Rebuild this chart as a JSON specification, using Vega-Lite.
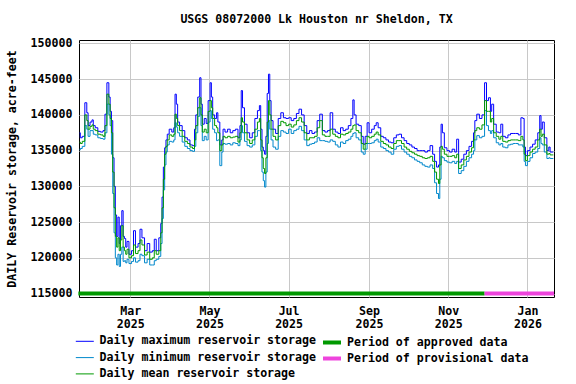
{
  "$schema": "https://vega.github.io/schema/vega-lite/v6.json",
  "autosize": {"type": "none"},
  "padding": {"left": 79, "top": 40, "right": 22, "bottom": 87},
  "width": 475,
  "height": 257,
  "background": "white",
  "config": {
    "font": "DejaVu Sans Mono",
    "view": {"stroke": "black", "strokeWidth": 1},
    "axis": {
      "labelFont": "DejaVu Sans Mono", "labelFontWeight": "bold", "labelFontSize": 11.6, "labelColor": "black",
      "titleFont": "DejaVu Sans Mono", "titleFontWeight": "bold", "titleFontSize": 11.6, "titleColor": "black",
      "grid": true, "gridColor": "#c8c8c8", "gridWidth": 1, "domain": false, "ticks": false, "labelOverlap": false
    },
    "legend": {
      "labelFont": "DejaVu Sans Mono", "labelFontWeight": "bold", "labelFontSize": 11.6, "labelColor": "black",
      "labelLimit": 400, "padding": 0
    }
  },
  "title": {
    "text": "USGS 08072000 Lk Houston nr Sheldon, TX",
    "font": "DejaVu Sans Mono", "fontWeight": "bold", "fontSize": 11.6, "color": "black",
    "anchor": "middle", "frame": "group", "baseline": "bottom", "offset": 1
  },
  "datasets": {
    "storage": [
      {"date":"2025-01-21","max":137500,"mean":136200,"min":135100},
      {"date":"2025-01-22","max":136800,"mean":136000,"min":135300},
      {"date":"2025-01-24","max":137000,"mean":136300,"min":135600},
      {"date":"2025-01-26","max":141700,"mean":140000,"min":138500},
      {"date":"2025-01-27","max":140300,"mean":139200,"min":138000},
      {"date":"2025-01-28","max":138500,"mean":138000,"min":137000},
      {"date":"2025-01-30","max":139000,"mean":138400,"min":137800},
      {"date":"2025-01-31","max":139300,"mean":138600,"min":137800},
      {"date":"2025-02-01","max":138500,"mean":138000,"min":137300},
      {"date":"2025-02-03","max":138200,"mean":137800,"min":137200},
      {"date":"2025-02-05","max":137700,"mean":137300,"min":136800},
      {"date":"2025-02-07","max":137600,"mean":137200,"min":136700},
      {"date":"2025-02-09","max":137800,"mean":137000,"min":136600},
      {"date":"2025-02-10","max":140100,"mean":138500,"min":137500},
      {"date":"2025-02-12","max":144500,"mean":142900,"min":141500},
      {"date":"2025-02-13","max":142500,"mean":141500,"min":140000},
      {"date":"2025-02-14","max":140500,"mean":139500,"min":138500},
      {"date":"2025-02-15","max":139200,"mean":137500,"min":134500},
      {"date":"2025-02-16","max":134000,"mean":132000,"min":129000},
      {"date":"2025-02-17","max":130000,"mean":127000,"min":123500},
      {"date":"2025-02-18","max":126000,"mean":123000,"min":120000},
      {"date":"2025-02-19","max":123000,"mean":121500,"min":119000},
      {"date":"2025-02-20","max":125700,"mean":122800,"min":120500},
      {"date":"2025-02-21","max":122000,"mean":121000,"min":118800},
      {"date":"2025-02-22","max":124500,"mean":122500,"min":120500},
      {"date":"2025-02-23","max":126600,"mean":124500,"min":121500},
      {"date":"2025-02-24","max":123000,"mean":121500,"min":119500},
      {"date":"2025-02-25","max":122700,"mean":121000,"min":119600},
      {"date":"2025-02-26","max":121500,"mean":120500,"min":119300},
      {"date":"2025-02-27","max":122300,"mean":121200,"min":119800},
      {"date":"2025-03-01","max":120500,"mean":120000,"min":119200},
      {"date":"2025-03-03","max":121000,"mean":120300,"min":119500},
      {"date":"2025-03-04","max":123800,"mean":121800,"min":120000},
      {"date":"2025-03-06","max":121500,"mean":120600,"min":119400},
      {"date":"2025-03-08","max":122000,"mean":121000,"min":119600},
      {"date":"2025-03-09","max":124000,"mean":122500,"min":120500},
      {"date":"2025-03-11","max":122800,"mean":121800,"min":120300},
      {"date":"2025-03-13","max":121000,"mean":120400,"min":119300},
      {"date":"2025-03-15","max":122000,"mean":120800,"min":119800},
      {"date":"2025-03-17","max":120800,"mean":119800,"min":119000},
      {"date":"2025-03-19","max":121000,"mean":120000,"min":119000},
      {"date":"2025-03-20","max":122600,"mean":121000,"min":119600},
      {"date":"2025-03-22","max":121000,"mean":120500,"min":119800},
      {"date":"2025-03-24","max":122800,"mean":121000,"min":120200},
      {"date":"2025-03-25","max":124800,"mean":123500,"min":122000},
      {"date":"2025-03-26","max":128500,"mean":127000,"min":125500},
      {"date":"2025-03-27","max":132700,"mean":131000,"min":129500},
      {"date":"2025-03-28","max":135400,"mean":134500,"min":133000},
      {"date":"2025-03-29","max":136500,"mean":135600,"min":134800},
      {"date":"2025-03-30","max":137300,"mean":136500,"min":135800},
      {"date":"2025-04-01","max":138000,"mean":137200,"min":136300},
      {"date":"2025-04-03","max":137600,"mean":137000,"min":136200},
      {"date":"2025-04-04","max":138200,"mean":137300,"min":136500},
      {"date":"2025-04-05","max":142900,"mean":140100,"min":138900},
      {"date":"2025-04-06","max":141500,"mean":139500,"min":138300},
      {"date":"2025-04-07","max":139000,"mean":138500,"min":137500},
      {"date":"2025-04-09","max":138500,"mean":137800,"min":137000},
      {"date":"2025-04-11","max":137800,"mean":137000,"min":136200},
      {"date":"2025-04-13","max":136800,"mean":136300,"min":135600},
      {"date":"2025-04-15","max":136500,"mean":136000,"min":135300},
      {"date":"2025-04-17","max":135800,"mean":135500,"min":135000},
      {"date":"2025-04-19","max":135700,"mean":135300,"min":134900},
      {"date":"2025-04-20","max":138000,"mean":136500,"min":135600},
      {"date":"2025-04-21","max":140000,"mean":138500,"min":137500},
      {"date":"2025-04-23","max":142500,"mean":141000,"min":139800},
      {"date":"2025-04-24","max":145200,"mean":142400,"min":141000},
      {"date":"2025-04-25","max":141500,"mean":140000,"min":138500},
      {"date":"2025-04-26","max":138700,"mean":137600,"min":136400},
      {"date":"2025-04-28","max":139500,"mean":138000,"min":137000},
      {"date":"2025-04-29","max":138800,"mean":137500,"min":136500},
      {"date":"2025-05-01","max":142000,"mean":140500,"min":139000},
      {"date":"2025-05-02","max":144500,"mean":142000,"min":140600},
      {"date":"2025-05-03","max":142500,"mean":141000,"min":139500},
      {"date":"2025-05-04","max":140000,"mean":139500,"min":138000},
      {"date":"2025-05-06","max":139500,"mean":138500,"min":137500},
      {"date":"2025-05-07","max":140300,"mean":138200,"min":136400},
      {"date":"2025-05-08","max":139000,"mean":137500,"min":136500},
      {"date":"2025-05-10","max":135800,"mean":135000,"min":132900},
      {"date":"2025-05-11","max":136500,"mean":135800,"min":134800},
      {"date":"2025-05-12","max":138000,"mean":137000,"min":136000},
      {"date":"2025-05-14","max":137600,"mean":136800,"min":135900},
      {"date":"2025-05-16","max":138000,"mean":137000,"min":136000},
      {"date":"2025-05-18","max":137500,"mean":136800,"min":135800},
      {"date":"2025-05-20","max":137800,"mean":136900,"min":136100},
      {"date":"2025-05-22","max":138000,"mean":137000,"min":136000},
      {"date":"2025-05-24","max":136800,"mean":136200,"min":135700},
      {"date":"2025-05-25","max":138500,"mean":137500,"min":136500},
      {"date":"2025-05-26","max":143400,"mean":139600,"min":138500},
      {"date":"2025-05-27","max":141000,"mean":139000,"min":137500},
      {"date":"2025-05-29","max":138700,"mean":137500,"min":136300},
      {"date":"2025-05-31","max":137500,"mean":136500,"min":135700},
      {"date":"2025-06-02","max":136800,"mean":136000,"min":135500},
      {"date":"2025-06-04","max":137500,"mean":136500,"min":135800},
      {"date":"2025-06-06","max":139500,"mean":138000,"min":137000},
      {"date":"2025-06-08","max":140600,"mean":139000,"min":137800},
      {"date":"2025-06-09","max":141300,"mean":139500,"min":137800},
      {"date":"2025-06-10","max":138000,"mean":136500,"min":135000},
      {"date":"2025-06-11","max":135500,"mean":134000,"min":132000},
      {"date":"2025-06-12","max":135000,"mean":132500,"min":130800},
      {"date":"2025-06-13","max":134500,"mean":131800,"min":129900},
      {"date":"2025-06-14","max":137000,"mean":134000,"min":132000},
      {"date":"2025-06-15","max":143000,"mean":139000,"min":136000},
      {"date":"2025-06-16","max":145700,"mean":142000,"min":139200},
      {"date":"2025-06-17","max":142000,"mean":140000,"min":138000},
      {"date":"2025-06-18","max":139200,"mean":138000,"min":136500},
      {"date":"2025-06-20","max":138000,"mean":137000,"min":135500},
      {"date":"2025-06-22","max":137400,"mean":136500,"min":135200},
      {"date":"2025-06-24","max":139500,"mean":138500,"min":137000},
      {"date":"2025-06-26","max":140300,"mean":139100,"min":137800},
      {"date":"2025-06-28","max":139600,"mean":138900,"min":137600},
      {"date":"2025-06-30","max":139500,"mean":138500,"min":137400},
      {"date":"2025-07-02","max":139600,"mean":138700,"min":138000},
      {"date":"2025-07-04","max":139200,"mean":138300,"min":137400},
      {"date":"2025-07-06","max":139500,"mean":138600,"min":137800},
      {"date":"2025-07-08","max":140200,"mean":139200,"min":138000},
      {"date":"2025-07-10","max":140800,"mean":139600,"min":138400},
      {"date":"2025-07-12","max":140000,"mean":139000,"min":137800},
      {"date":"2025-07-14","max":138500,"mean":137500,"min":136500},
      {"date":"2025-07-16","max":137400,"mean":136500,"min":135700},
      {"date":"2025-07-18","max":137800,"mean":136800,"min":135900},
      {"date":"2025-07-20","max":137400,"mean":136800,"min":136000},
      {"date":"2025-07-22","max":137600,"mean":137000,"min":136200},
      {"date":"2025-07-24","max":139200,"mean":138200,"min":136800},
      {"date":"2025-07-26","max":140100,"mean":139200,"min":136400},
      {"date":"2025-07-28","max":137800,"mean":137200,"min":136400},
      {"date":"2025-07-30","max":137600,"mean":137000,"min":136300},
      {"date":"2025-08-01","max":137800,"mean":137000,"min":136200},
      {"date":"2025-08-03","max":140300,"mean":138000,"min":136500},
      {"date":"2025-08-05","max":138000,"mean":137300,"min":136300},
      {"date":"2025-08-07","max":137600,"mean":137000,"min":135800},
      {"date":"2025-08-09","max":137400,"mean":136800,"min":135500},
      {"date":"2025-08-11","max":138200,"mean":137300,"min":136200},
      {"date":"2025-08-13","max":137800,"mean":137200,"min":136000},
      {"date":"2025-08-15","max":138000,"mean":137400,"min":136400},
      {"date":"2025-08-17","max":138500,"mean":137600,"min":136600},
      {"date":"2025-08-19","max":139500,"mean":138000,"min":137000},
      {"date":"2025-08-20","max":142100,"mean":138500,"min":137400},
      {"date":"2025-08-21","max":140000,"mean":138600,"min":137500},
      {"date":"2025-08-23","max":138700,"mean":137800,"min":136800},
      {"date":"2025-08-25","max":138500,"mean":137500,"min":136500},
      {"date":"2025-08-27","max":137000,"mean":136000,"min":134800},
      {"date":"2025-08-28","max":135900,"mean":135200,"min":134500},
      {"date":"2025-08-30","max":137000,"mean":136000,"min":135200},
      {"date":"2025-08-31","max":138900,"mean":137000,"min":136000},
      {"date":"2025-09-02","max":137500,"mean":136800,"min":136000},
      {"date":"2025-09-04","max":138000,"mean":137000,"min":136100},
      {"date":"2025-09-06","max":138500,"mean":137300,"min":136400},
      {"date":"2025-09-07","max":138900,"mean":137600,"min":136600},
      {"date":"2025-09-09","max":138200,"mean":137200,"min":136200},
      {"date":"2025-09-11","max":137000,"mean":136300,"min":135500},
      {"date":"2025-09-13","max":136800,"mean":136000,"min":135300},
      {"date":"2025-09-15","max":136500,"mean":135800,"min":135000},
      {"date":"2025-09-17","max":136200,"mean":135500,"min":134800},
      {"date":"2025-09-19","max":136100,"mean":135300,"min":134500},
      {"date":"2025-09-21","max":136800,"mean":136000,"min":135200},
      {"date":"2025-09-23","max":137200,"mean":136400,"min":135600},
      {"date":"2025-09-25","max":137300,"mean":136400,"min":135700},
      {"date":"2025-09-27","max":136800,"mean":136000,"min":135200},
      {"date":"2025-09-29","max":136400,"mean":135500,"min":134800},
      {"date":"2025-10-01","max":136000,"mean":135200,"min":134500},
      {"date":"2025-10-03","max":135800,"mean":134900,"min":134200},
      {"date":"2025-10-05","max":135500,"mean":134700,"min":134000},
      {"date":"2025-10-07","max":135300,"mean":134500,"min":133700},
      {"date":"2025-10-09","max":135000,"mean":134300,"min":133500},
      {"date":"2025-10-11","max":135000,"mean":134200,"min":133300},
      {"date":"2025-10-13","max":135000,"mean":134000,"min":133000},
      {"date":"2025-10-15","max":134800,"mean":133900,"min":132800},
      {"date":"2025-10-17","max":135000,"mean":134000,"min":132700},
      {"date":"2025-10-19","max":135700,"mean":134200,"min":133000},
      {"date":"2025-10-21","max":134500,"mean":133500,"min":132500},
      {"date":"2025-10-22","max":133500,"mean":132000,"min":130500},
      {"date":"2025-10-24","max":132700,"mean":131000,"min":129000},
      {"date":"2025-10-25","max":133000,"mean":130400,"min":128300},
      {"date":"2025-10-26","max":135500,"mean":133000,"min":131000},
      {"date":"2025-10-27","max":138700,"mean":135600,"min":134200},
      {"date":"2025-10-28","max":137500,"mean":135200,"min":134000},
      {"date":"2025-10-30","max":135400,"mean":134500,"min":133600},
      {"date":"2025-11-01","max":135000,"mean":134200,"min":133400},
      {"date":"2025-11-03","max":134800,"mean":134200,"min":133300},
      {"date":"2025-11-05","max":135200,"mean":134300,"min":133500},
      {"date":"2025-11-07","max":134800,"mean":134000,"min":133200},
      {"date":"2025-11-08","max":136600,"mean":134500,"min":133500},
      {"date":"2025-11-10","max":133400,"mean":132500,"min":131800},
      {"date":"2025-11-12","max":133800,"mean":133000,"min":132200},
      {"date":"2025-11-14","max":134500,"mean":133700,"min":132800},
      {"date":"2025-11-16","max":135000,"mean":134200,"min":133500},
      {"date":"2025-11-18","max":135600,"mean":134800,"min":134000},
      {"date":"2025-11-20","max":136300,"mean":135400,"min":134500},
      {"date":"2025-11-21","max":137500,"mean":136500,"min":135000},
      {"date":"2025-11-22","max":139200,"mean":137800,"min":136500},
      {"date":"2025-11-24","max":140100,"mean":138200,"min":137100},
      {"date":"2025-11-26","max":139500,"mean":138000,"min":136800},
      {"date":"2025-11-28","max":140000,"mean":138600,"min":137000},
      {"date":"2025-11-30","max":144500,"mean":142000,"min":140600},
      {"date":"2025-12-01","max":142000,"mean":140500,"min":138500},
      {"date":"2025-12-03","max":142400,"mean":140500,"min":137800},
      {"date":"2025-12-04","max":140500,"mean":139000,"min":137400},
      {"date":"2025-12-05","max":141500,"mean":139500,"min":137800},
      {"date":"2025-12-07","max":138700,"mean":137500,"min":136800},
      {"date":"2025-12-09","max":137600,"mean":137000,"min":136100},
      {"date":"2025-12-11","max":137500,"mean":136600,"min":135800},
      {"date":"2025-12-12","max":138700,"mean":137000,"min":136000},
      {"date":"2025-12-14","max":137000,"mean":136300,"min":135500},
      {"date":"2025-12-16","max":136800,"mean":136200,"min":135400},
      {"date":"2025-12-18","max":137200,"mean":136400,"min":135800},
      {"date":"2025-12-20","max":137400,"mean":136500,"min":135900},
      {"date":"2025-12-22","max":137400,"mean":136500,"min":136000},
      {"date":"2025-12-24","max":137400,"mean":136500,"min":136000},
      {"date":"2025-12-26","max":137200,"mean":136400,"min":135800},
      {"date":"2025-12-28","max":139600,"mean":137000,"min":135800},
      {"date":"2025-12-29","max":139500,"mean":136500,"min":135500},
      {"date":"2025-12-30","max":135500,"mean":134500,"min":133500},
      {"date":"2025-12-31","max":134300,"mean":133600,"min":132900},
      {"date":"2026-01-02","max":135000,"mean":134300,"min":133500},
      {"date":"2026-01-04","max":135500,"mean":134800,"min":134000},
      {"date":"2026-01-06","max":135900,"mean":135200,"min":134600},
      {"date":"2026-01-08","max":136500,"mean":135500,"min":134800},
      {"date":"2026-01-10","max":137500,"mean":136500,"min":135300},
      {"date":"2026-01-11","max":139900,"mean":138000,"min":136800},
      {"date":"2026-01-12","max":138000,"mean":137000,"min":136000},
      {"date":"2026-01-13","max":139000,"mean":137300,"min":135800},
      {"date":"2026-01-15","max":136800,"mean":135800,"min":134800},
      {"date":"2026-01-17","max":135000,"mean":134500,"min":133900},
      {"date":"2026-01-18","max":135500,"mean":134600,"min":134000},
      {"date":"2026-01-19","max":134800,"mean":134400,"min":133900},
      {"date":"2026-01-21","max":134800,"mean":134400,"min":133900}
    ],
    "periods": [
      {"period": "Period of approved data", "start": "2025-01-20", "end": "2025-11-29"},
      {"period": "Period of provisional data", "start": "2025-11-29", "end": "2026-01-21T12:00:00Z"}
    ]
  },
  "layer": [
    {
      "data": {"name": "storage"},
      "transform": [{"fold": ["max", "min", "mean"], "as": ["series", "value"]}],
      "mark": {"type": "line", "interpolate": "step", "strokeWidth": 1, "clip": true},
      "encoding": {
        "x": {
          "field": "date", "type": "temporal",
          "scale": {"type": "utc", "domain": [{"year": 2025, "month": 1, "date": 20, "hours": 12, "utc": true}, {"year": 2026, "month": 1, "date": 21, "hours": 12, "utc": true}]},
          "axis": {
            "title": null,
            "values": [
              {"year": 2025, "month": 3, "date": 1, "utc": true},
              {"year": 2025, "month": 5, "date": 1, "utc": true},
              {"year": 2025, "month": 7, "date": 1, "utc": true},
              {"year": 2025, "month": 9, "date": 1, "utc": true},
              {"year": 2025, "month": 11, "date": 1, "utc": true},
              {"year": 2026, "month": 1, "date": 1, "utc": true}
            ],
            "labelExpr": "[utcFormat(datum.value, '%b'), utcFormat(datum.value, '%Y')]",
            "labelPadding": 8, "labelLineHeight": 13, "labelFlush": false
          }
        },
        "y": {
          "field": "value", "type": "quantitative",
          "scale": {"domain": [114520, 150480], "nice": false, "zero": false},
          "axis": {
            "title": "DAILY Reservoir storage, acre-feet",
            "values": [115000, 120000, 125000, 130000, 135000, 140000, 145000, 150000],
            "format": "d", "labelPadding": 7, "titlePadding": 13
          }
        },
        "color": {
          "field": "series", "type": "nominal",
          "scale": {"domain": ["max", "min", "mean"], "range": ["#0000ff", "#0088cc", "#009900"]},
          "legend": {
            "title": null, "orient": "none", "legendX": 0, "legendY": 295.5,
            "symbolType": "M-1.8,0H1.8", "symbolSize": 100, "symbolStrokeWidth": 1,
            "labelOffset": 9, "rowPadding": 3.3,
            "labelExpr": "datum.label == 'max' ? 'Daily maximum reservoir storage' : datum.label == 'min' ? 'Daily minimum reservoir storage' : 'Daily mean reservoir storage'"
          }
        }
      }
    },
    {
      "data": {"name": "periods"},
      "mark": {"type": "rule", "strokeWidth": 4, "strokeCap": "butt"},
      "encoding": {
        "x": {
          "field": "start", "type": "temporal",
          "axis": {
            "title": null,
            "values": [
              {"year": 2025, "month": 3, "date": 1, "utc": true},
              {"year": 2025, "month": 5, "date": 1, "utc": true},
              {"year": 2025, "month": 7, "date": 1, "utc": true},
              {"year": 2025, "month": 9, "date": 1, "utc": true},
              {"year": 2025, "month": 11, "date": 1, "utc": true},
              {"year": 2026, "month": 1, "date": 1, "utc": true}
            ],
            "labelExpr": "[utcFormat(datum.value, '%b'), utcFormat(datum.value, '%Y')]",
            "labelPadding": 8, "labelLineHeight": 13, "labelFlush": false
          }
        },
        "x2": {"field": "end"},
        "y": {
          "datum": 115000,
          "axis": {
            "title": "DAILY Reservoir storage, acre-feet",
            "values": [115000, 120000, 125000, 130000, 135000, 140000, 145000, 150000],
            "format": "d", "labelPadding": 7, "titlePadding": 13
          }
        },
        "color": {
          "field": "period", "type": "nominal",
          "scale": {"domain": ["Period of approved data", "Period of provisional data"], "range": ["#009900", "#ee44dd"]},
          "legend": {
            "title": null, "orient": "none", "legendX": 246, "legendY": 295.5,
            "symbolType": "M-1.8,0H1.8", "symbolSize": 100, "symbolStrokeWidth": 4,
            "labelOffset": 8, "rowPadding": 0
          }
        }
      }
    }
  ],
  "resolve": {"scale": {"color": "independent"}}
}
